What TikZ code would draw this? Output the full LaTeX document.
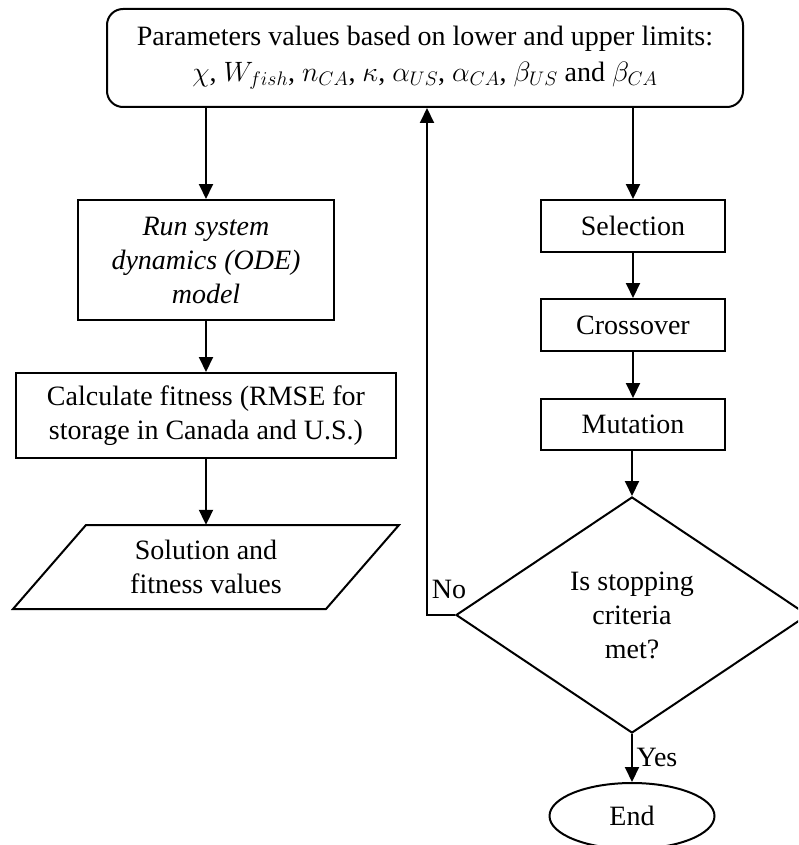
\documentclass[tikz,border=0pt]{standalone}
\usepackage{fix-cm}
\usepackage{fontspec}
\setmainfont{Liberation Serif}
\usetikzlibrary{shapes.geometric,arrows.meta}
\begin{document}
\begin{tikzpicture}[x=1pt,y=-1pt,
  every node/.style={font=\fontsize{28}{34}\selectfont, inner sep=0pt, align=center},
  box/.style={draw, line width=2pt},
  arr/.style={-{Triangle[width=14pt,length=15pt]}, line width=2pt}]
\useasboundingbox (0,0) rectangle (798,845);
\clip (0,0) rectangle (798,845);
% top box
\node[box, rounded corners=16pt, minimum width=636pt, minimum height=98pt] (top) at (425,58)
  {Parameters values based on lower and upper limits:\\[2pt]
   $\chi$, $W_{fish}$, $n_{CA}$, $\kappa$, $\alpha_{US}$, $\alpha_{CA}$, $\beta_{US}$ and $\beta_{CA}$};
% left column
\node[box, minimum width=256pt, minimum height=120pt, font=\fontsize{28}{34}\selectfont\itshape] (run) at (206,260)
  {Run system\\dynamics (ODE)\\model};
\node[box, minimum width=380pt, minimum height=85pt] (calc) at (206,415.5)
  {Calculate fitness (RMSE for\\storage in Canada and U.S.)};
\node[minimum width=240pt, minimum height=84pt] (sol) at (206,567)
  {Solution and\\fitness values};
\draw[line width=2pt, line join=miter] (86,525) -- (399,525) -- (326,609) -- (13,609) -- cycle;
% right column
\node[box, minimum width=184pt, minimum height=52pt] (sel) at (633,226) {Selection};
\node[box, minimum width=184pt, minimum height=52pt] (cross) at (633,325) {Crossover};
\node[box, minimum width=184pt, minimum height=51pt] (mut) at (633,424.5) {Mutation};
\node[draw, diamond, shape aspect=1.5, line width=2pt, minimum width=352pt, minimum height=236pt] (dec) at (632,615)
  {Is stopping\\criteria\\met?};
\node[draw, ellipse, line width=2pt, minimum width=165pt, minimum height=66pt] (end) at (632,816) {End};
% connectors
\draw[arr] (top.south -| run.north) -- (run.north);
\draw[arr] (run) -- (calc);
\draw[arr] (calc) -- (sol);
\draw[arr] (top.south -| sel.north) -- (sel.north);
\draw[arr] (sel) -- (cross);
\draw[arr] (cross) -- (mut);
\draw[arr] (mut.south -| dec.north) -- (dec.north);
\draw[arr] (dec.south) -- (end.north);
\coordinate (nocorner) at (427,615);
\draw[arr] (dec.west) -- (nocorner) -- (nocorner |- top.south);
% labels
\node (nolab) at (449,589) {No};
\node (yeslab) at (657,757) {Yes};
\end{tikzpicture}
\end{document}
